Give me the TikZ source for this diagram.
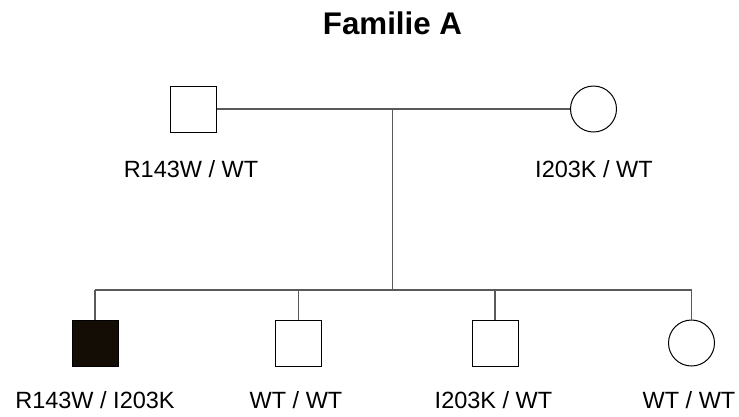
\documentclass[tikz,border=0pt]{standalone}
\usepackage{fontspec}
\setmainfont{Liberation Sans}
\begin{document}
\begin{tikzpicture}[x=1pt,y=-1pt,
  male/.style={draw=black,line width=1pt,rectangle,minimum size=46pt,inner sep=0pt},
  female/.style={draw=black,line width=1pt,circle,minimum size=46pt,inner sep=0pt},
  affected/.style={fill=black!90!brown},
  link/.style={draw=black!65,line width=1.3pt},
  lbl/.style={anchor=base,inner sep=0pt,font=\fontsize{23.5}{27}\selectfont},
  ttl/.style={anchor=base,inner sep=0pt,font=\fontsize{31.3}{36}\selectfont\bfseries}]
\useasboundingbox (0,0) rectangle (739,416);
\node[ttl] (title) at (392.5,34) {Familie A};
\node[male] (father) at (193,109) {};
\node[female] (mother) at (593.5,109) {};
\node[lbl] (lf) at (191,177) {R143W / WT};
\node[lbl] (lm) at (594,177) {I203K / WT};
\node[male,affected] (c1) at (95,343) {};
\node[male] (c2) at (298.5,343) {};
\node[male] (c3) at (495,343) {};
\node[female] (c4) at (691.5,343) {};
\node[lbl] (l1) at (95,408) {R143W / I203K};
\node[lbl] (l2) at (296,408) {WT / WT};
\node[lbl] (l3) at (493.5,408) {I203K / WT};
\node[lbl] (l4) at (689,408) {WT / WT};
\coordinate (m) at (392.7,109);
\coordinate (s) at (392.7,290);
\coordinate (s1) at (95,290);
\coordinate (s2) at (298.5,290);
\coordinate (s3) at (495,290);
\coordinate (s4) at (691.5,290);
\draw[link] (father.east) -- (mother.west);
\draw[link] (m) -- (s);
\draw[link] (s1) -- (s4);
\draw[link] (s1) -- (c1.north);
\draw[link] (s2) -- (c2.north);
\draw[link] (s3) -- (c3.north);
\draw[link] (s4) -- (c4.north);
\end{tikzpicture}
\end{document}
